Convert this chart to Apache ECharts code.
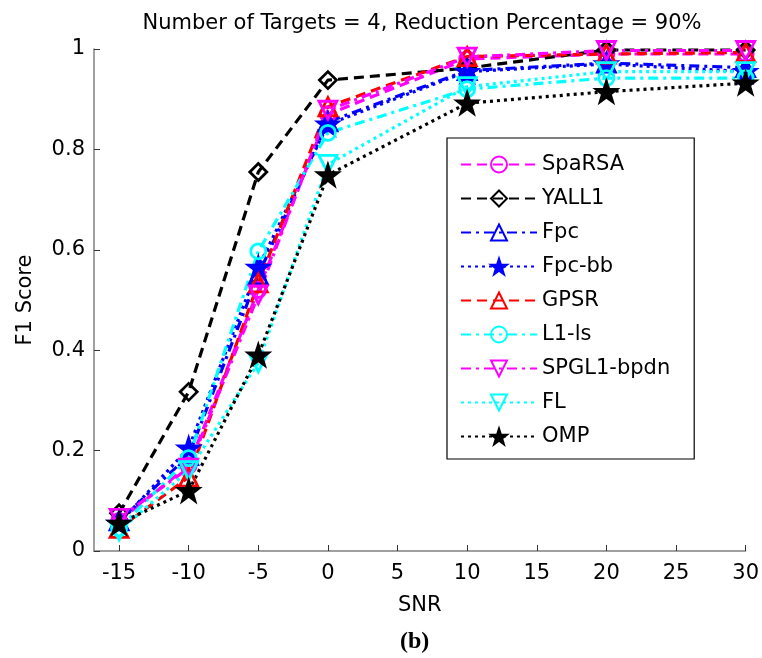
<!DOCTYPE html>
<html>
<head>
<meta charset="utf-8">
<script src="https://cdn.jsdelivr.net/npm/echarts@6/dist/echarts.min.js"></script>
<style>
  html, body { margin: 0; padding: 0; background: #fff; }
  #chart { width: 762px; height: 658px; }
</style>
</head>
<body>
<div id="chart"></div>
<script>
// SNR levels (dB) at which each recovery algorithm was evaluated
const snr = [-15, -10, -5, 0, 10, 20, 30];
const xTicks = [-15, -10, -5, 0, 5, 10, 15, 20, 25, 30];

// F1 scores per algorithm
const spaRSA = [0.060, 0.170, 0.520, 0.870, 0.980, 0.990, 0.990];
const yall1  = [0.075, 0.317, 0.755, 0.938, 0.962, 0.998, 0.998];
const fpc    = [0.060, 0.190, 0.550, 0.855, 0.957, 0.972, 0.963];
const fpcBb  = [0.055, 0.205, 0.565, 0.850, 0.955, 0.970, 0.955];
const gpsr   = [0.045, 0.147, 0.534, 0.885, 0.985, 0.990, 0.993];
const l1ls   = [0.045, 0.185, 0.597, 0.833, 0.920, 0.942, 0.942];
const spgl1  = [0.065, 0.165, 0.510, 0.878, 0.984, 0.997, 0.997];
const fl     = [0.040, 0.160, 0.375, 0.770, 0.925, 0.955, 0.955];
const omp    = [0.055, 0.120, 0.390, 0.749, 0.892, 0.915, 0.932];

const FONT = '"DejaVu Sans", "Liberation Sans", Arial, sans-serif';

const STAR = 'path://M50,0 L61.8,35.3 L98.9,35.7 L69.1,57.7 L80.2,93.3 L50,71.8 L19.8,93.3 L30.9,57.7 L1.1,35.7 L38.2,35.3 Z';
const TRI_DOWN = 'path://M0,0 L100,0 L50,87 Z';

const DASH = [10, 6];
const DASHDOT = [10, 5, 3, 5];
const DOT = [3, 4];

function makeSeries(name, values, color, dash, symbol, size, filled) {
  return {
    name: name,
    type: 'line',
    data: snr.map((x, i) => [x, values[i]]),
    symbol: symbol,
    symbolSize: size,
    showAllSymbol: true,
    color: color,
    lineStyle: { color: color, width: 3.2, type: dash },
    itemStyle: {
      color: filled ? color : 'rgba(255,255,255,0)',
      borderColor: color,
      borderWidth: 2.8
    },
    emphasis: { disabled: true },
    animation: false
  };
}

const series = [
  makeSeries('SpaRSA',     spaRSA, '#ff00ff', DASH,    'circle',  15, false),
  makeSeries('YALL1',      yall1,  '#000000', DASH,    'diamond', 17, false),
  makeSeries('Fpc',        fpc,    '#0000ff', DASHDOT, 'triangle',18, false),
  makeSeries('Fpc-bb',     fpcBb,  '#0000ff', DOT,     STAR,      20, true),
  makeSeries('GPSR',       gpsr,   '#ff0000', DASH,    'triangle',18, false),
  makeSeries('L1-ls',      l1ls,   '#00ffff', DASHDOT, 'circle',  15, false),
  makeSeries('SPGL1-bpdn', spgl1,  '#ff00ff', DASHDOT, TRI_DOWN,  18, false),
  makeSeries('FL',         fl,     '#00ffff', DOT,     TRI_DOWN,  18, false),
  makeSeries('OMP',        omp,    '#000000', DOT,     STAR,      20, true)
];

const chart = echarts.init(document.getElementById('chart'), null, { renderer: 'canvas' });
chart.setOption({
  backgroundColor: '#ffffff',
  animation: false,
  title: {
    text: 'Number of Targets = 4, Reduction Percentage = 90%',
    left: 417,
    textAlign: 'center',
    top: 8,
    textStyle: { fontFamily: FONT, fontSize: 21, fontWeight: 'normal', color: '#000' }
  },
  grid: { left: 94, right: 13, top: 49, bottom: 107, containLabel: false },
  legend: {
    orient: 'vertical',
    left: 447,
    top: 138,
    padding: [16, 24, 12, 13],
    itemWidth: 76,
    itemHeight: 20,
    itemGap: 13,
    backgroundColor: '#ffffff',
    borderColor: '#000000',
    borderWidth: 1.2,
    borderRadius: 0,
    textStyle: { fontFamily: FONT, fontSize: 21, color: '#000' },
    data: series.map(s => s.name)
  },
  xAxis: {
    type: 'value',
    min: -16.8,
    max: 30,
    name: 'SNR',
    nameLocation: 'middle',
    nameGap: 44,
    nameTextStyle: { fontFamily: FONT, fontSize: 21, color: '#000' },
    axisLine: { show: true, onZero: false, lineStyle: { color: '#808080', width: 1.5 } },
    axisTick: { show: true, inside: true, length: 6, customValues: xTicks, lineStyle: { color: '#333' } },
    axisLabel: { customValues: xTicks, margin: 12, fontFamily: FONT, fontSize: 21, color: '#000' },
    splitLine: { show: false }
  },
  yAxis: {
    type: 'value',
    min: 0,
    max: 1,
    interval: 0.2,
    name: 'F1 Score',
    nameLocation: 'middle',
    nameGap: 58,
    nameRotate: 90,
    nameTextStyle: { fontFamily: FONT, fontSize: 21, color: '#000' },
    axisLine: { show: true, onZero: false, lineStyle: { color: '#808080', width: 1.5 } },
    axisTick: { show: true, inside: true, length: 6, lineStyle: { color: '#333' } },
    axisLabel: { margin: 9, fontFamily: FONT, fontSize: 21, color: '#000' },
    splitLine: { show: false }
  },
  graphic: [{
    type: 'text',
    left: 400,
    top: 630,
    style: { text: '(b)', font: 'bold 24px "Liberation Serif", "Times New Roman", serif', fill: '#000' }
  }],
  series: series
});
</script>
</body>
</html>
